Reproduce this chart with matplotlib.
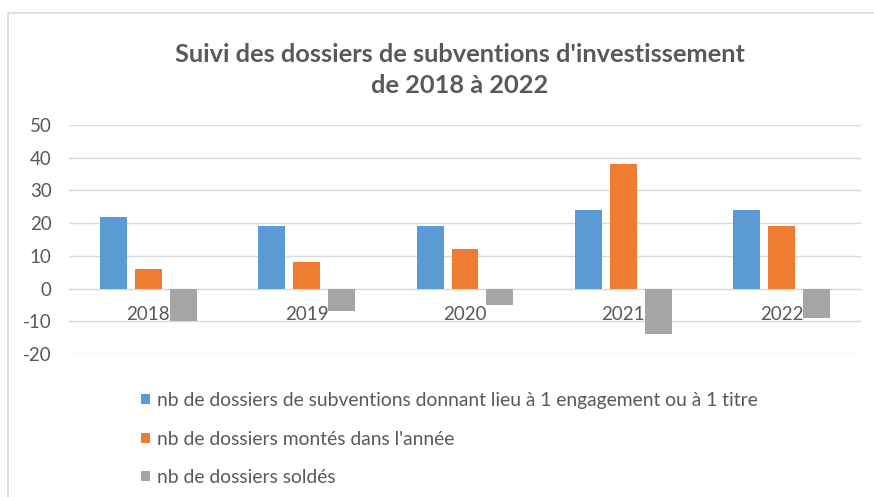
import matplotlib
matplotlib.use('Agg')
import matplotlib.pyplot as plt
import numpy as np
from matplotlib.lines import Line2D

years = ['2018', '2019', '2020', '2021', '2022']
engagements = [22, 19, 19, 24, 24]
montes = [6, 8, 12, 38, 19]
soldes = [-10, -7, -5, -14, -9]
series_labels = [
    "nb de dossiers de subventions donnant lieu à 1 engagement ou à 1 titre",
    "nb de dossiers montés dans l'année",
    "nb de dossiers soldés",
]
colors = ['#5B9BD5', '#ED7D31', '#A5A5A5']
yticks = [-20, -10, 0, 10, 20, 30, 40, 50]
title = "Suivi des dossiers de subventions d'investissement\nde 2018 à 2022"

plt.rcParams['font.family'] = ['Lato', 'DejaVu Sans']
plt.rcParams['axes.unicode_minus'] = False
W, H = 874, 497
fig = plt.figure(figsize=(W / 100, H / 100), dpi=100)
ax = fig.add_axes([69 / W, 1 - 354 / H, (861 - 69) / W, (354 - 125) / H])

x = np.arange(len(years))
w = 0.17
step = 0.22
for i, (vals, c, lab) in enumerate(zip([engagements, montes, soldes], colors, series_labels)):
    ax.bar(x + (i - 1) * step, vals, w, color=c, label=lab, zorder=3)

ax.set_xlim(-0.5, 4.5)
ax.set_ylim(-20, 50)
ax.set_yticks(yticks)
ax.grid(axis='y', color='#d9d9d9', lw=1, zorder=0)
ax.set_axisbelow(True)
for s in ['left', 'right', 'top']:
    ax.spines[s].set_visible(False)
ax.spines['bottom'].set_position(('data', 0))
ax.spines['bottom'].set_color('#d9d9d9')
ax.set_xticks(x)
ax.set_xticklabels(years)
ax.tick_params(axis='x', length=0, pad=12.5, labelsize=13.5, labelcolor='#595959')
ax.tick_params(axis='y', length=0, pad=12.5, labelsize=13.5, labelcolor='#595959')

fig.text(460 / W, 1 - 70 / H, title, ha='center', va='center', fontsize=18.3,
         fontweight='bold', color='#595959', linespacing=1.38)

handles, labels = ax.get_legend_handles_labels()
leg = fig.legend(handles, labels, loc='upper left', bbox_to_anchor=(141 / W, 1 - 392 / H),
                 frameon=False, fontsize=13.85, handlelength=0.45, handleheight=0.45,
                 handletextpad=0.4, labelspacing=1.12, borderaxespad=0, borderpad=0)
for t in leg.get_texts():
    t.set_color('#595959')

fig.add_artist(Line2D([8 / W, 8 / W, 1], [0, 1 - 13 / H, 1 - 13 / H],
                      transform=fig.transFigure, color='#d9d9d9', lw=1.2))

fig.savefig('out.png', dpi=100, facecolor='white')
